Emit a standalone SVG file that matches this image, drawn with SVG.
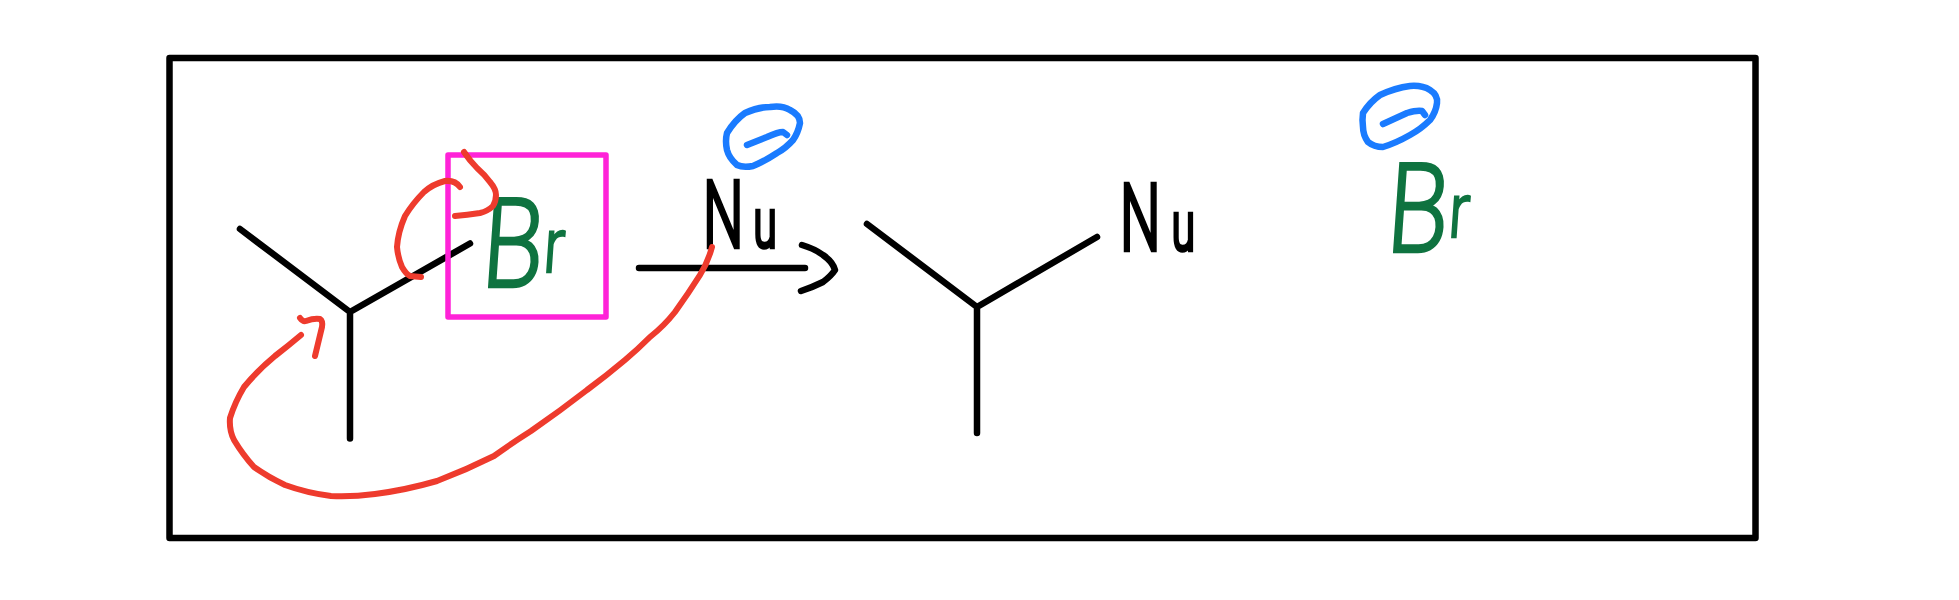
<svg xmlns="http://www.w3.org/2000/svg" width="1959" height="600" viewBox="0 0 1959 600">
<style>
.ink{fill:none;stroke-linecap:round;stroke-linejoin:round;stroke-width:6.500}
.k{stroke:#000}.r{stroke:#EE3B2D;stroke-width:6}.b{stroke:#1A7BFF;stroke-width:6.500}
.t{font-family:Roboto,"Liberation Sans",sans-serif;font-weight:300}
.g{fill:#0F7340;stroke:#0F7340;stroke-width:2.500}
.n{fill:#000;stroke:#000;stroke-width:4.500}
</style>
<rect width="1959" height="600" fill="#fff"/>
<rect id="frame" class="ink k" x="169.500" y="58" width="1586" height="480"/>
<g id="substrate">
<path class="ink k" d="M240 229L350 312L470 243.500M350 312V438.500"/>
</g>
<g id="leaving-box">
<rect class="ink" x="448" y="155" width="158" height="162" stroke="#FF22D8" style="stroke-width:5.500"/>
<text class="t g" transform="translate(480 287) skewX(-4) scale(.8 1)" font-size="125">B<tspan font-size="76" dy="-15" dx="0">r</tspan></text>
</g>
<g id="nucleophile">
<path class="ink b" d="M727 133Q735 120 745 113Q758 107 770 107Q782 105 790 110Q800 115 800 123Q798 133 793 140Q786 148 777 153Q765 161 753 166Q743 168 737 165Q729 158 727 150Q725 141 727 133Z"/>
<path class="ink b" d="M747 145L767 137Q778 132 783 132L787 135"/>
<text class="t n" transform="translate(703 247) scale(.62 1)" font-size="92">N<tspan font-size="68" dx="16">u</tspan></text>
</g>
<g id="reaction-arrow">
<path class="ink k" d="M639 268H805M802 245Q815 249 823 255Q833 262 835 270Q831 276 823 282Q813 287 801 291"/>
</g>
<g id="product">
<path class="ink k" d="M867 224L977 307L1097 237M977 307V433"/>
<text class="t n" transform="translate(1120 250) scale(.62 1)" font-size="92">N<tspan font-size="68" dx="18">u</tspan></text>
</g>
<g id="bromide">
<path class="ink b" d="M1363 113Q1370 102 1380 95Q1395 88 1410 86Q1422 85 1430 90Q1438 95 1437 103Q1436 112 1430 120Q1421 129 1410 135Q1396 143 1383 147Q1374 147 1368 142Q1363 135 1363 127Q1362 120 1363 113Z"/>
<path class="ink b" d="M1383 124L1407 113Q1417 110 1422 111L1425 115"/>
<text class="t g" transform="translate(1385 252) skewX(-4) scale(.8 1)" font-size="125">B<tspan font-size="76" dy="-15" dx="0">r</tspan></text>
</g>
<g id="connectors">
<path class="ink r" d="M460 187Q455 180 445 181Q433 184 424 192Q413 203 405 216Q398 232 397 247Q398 258 402 267Q406 274 410 276L421 277"/>
<path class="ink r" d="M464 152Q470 161 477 168Q485 175 490 182Q496 189 496 195Q496 201 493 206Q488 211 480 213Q467 215 455 216"/>
<path class="ink r" d="M712 247Q708 262 700 275Q688 294 675 312Q664 326 650 337Q637 350 625 360Q606 376 587 390Q560 411 531 431Q512 443 494 456Q466 470 437 481Q406 490 375 494Q352 497 331 496Q307 493 285 485Q268 477 254 467Q243 455 234 440Q229 430 230 418Q235 402 244 387Q258 370 275 356Q288 346 301 335"/>
<path class="ink r" d="M300 318Q303 322 306 321Q314 318 320 319Q323 321 322 327L315 356"/>
</g>
</svg>
